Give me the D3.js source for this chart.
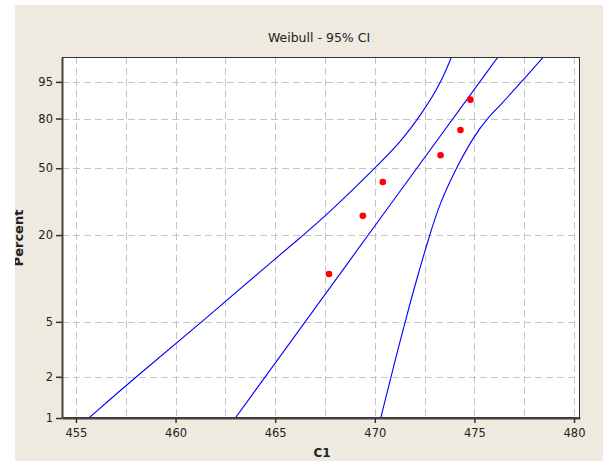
<!DOCTYPE html>
<html><head><meta charset="utf-8">
<script src="https://cdn.jsdelivr.net/npm/d3@7"></script>
<style>body{margin:0;background:#fff}svg{display:block}</style>
</head><body><svg id="c" width="603" height="461"></svg>
<script>
// ---- data ----
const title = "Weibull - 95% CI";
const xLabel = "C1";
const yLabel = "Percent";
const xTicks = [455, 460, 465, 470, 475, 480];
const xGrid = [455, 457.5, 460, 462.5, 465, 467.5, 470, 472.5, 475, 477.5, 480];
const yTicks = [1, 2, 5, 20, 50, 80, 95];
const yGrid = [2, 5, 20, 50, 80, 95];
const obsX = [467.7, 469.4, 470.4, 473.3, 474.3, 474.8];
const obsP = [10.9, 26.6, 42.2, 57.8, 73.4, 89.1];
const fitX = [463.0, 472.1, 476.2];
const fitP = [1, 50, 99];
const loX = [455.65, 458.01, 461.33, 465.04, 466.24, 467.75, 470.06, 471.30, 472.38, 473.27, 473.86];
const loP = [1, 2, 5, 14.05, 19.1, 28.1, 50.7, 66.1, 82.9, 94.2, 99];
const hiX = [470.30, 470.81, 471.52, 472.09, 472.75, 473.27, 474.03, 474.98, 475.66, 476.32, 477.36, 478.49];
const hiP = [1, 2, 5, 9.9, 20, 31.9, 48.9, 69.8, 80.3, 86.8, 95, 99];
const xDomain = [454.3, 480.3];
const pDomain = [1, 98.96];

// ---- layout ----
const L = 62, R = 580, T = 57, B = 418;
const svg = d3.select("#c");
const font = "'DejaVu Sans', Verdana, sans-serif";
const weib = p => Math.log(-Math.log(1 - p / 100));

svg.append("rect").attr("x", 0).attr("y", 0).attr("width", 603).attr("height", 461).attr("fill", "#fff");
svg.append("rect").attr("x", 15).attr("y", 5).attr("width", 588).attr("height", 456).attr("fill", "#EEEAE0");

const x = d3.scaleLinear().domain(xDomain).range([L, R]);
const y = d3.scaleLinear().domain(pDomain.map(weib)).range([B, T]);

svg.append("rect").attr("x", L).attr("y", T).attr("width", R - L).attr("height", B - T).attr("fill", "#fff");

// grid
const g = svg.append("g").attr("stroke", "#c4c4c4").attr("stroke-width", 1).attr("stroke-dasharray", "7,4");
g.selectAll("line.v").data(xGrid).join("line").attr("class", "v")
  .attr("x1", d => Math.round(x(d)) + 0.5).attr("x2", d => Math.round(x(d)) + 0.5)
  .attr("y1", T).attr("y2", B);
g.selectAll("line.h").data(yGrid).join("line").attr("class", "h")
  .attr("y1", d => Math.round(y(weib(d))) + 0.5).attr("y2", d => Math.round(y(weib(d))) + 0.5)
  .attr("x1", L).attr("x2", R);

// curves
svg.append("clipPath").attr("id", "pc").append("rect")
  .attr("x", L).attr("y", T).attr("width", R - L).attr("height", B - T);
const line = d3.line().x(d => x(d[0])).y(d => y(weib(d[1]))).curve(d3.curveBasis);
const cg = svg.append("g").attr("clip-path", "url(#pc)");
[[loX, loP], [fitX, fitP], [hiX, hiP]].forEach(([xs, ps]) => {
  cg.append("path").datum(xs.map((v, i) => [v, ps[i]]))
    .attr("d", line).attr("fill", "none").attr("stroke", "#0000ff").attr("stroke-width", 1.1);
});

// points
cg.selectAll("circle").data(obsX.map((v, i) => [v, obsP[i]])).join("circle")
  .attr("cx", d => x(d[0])).attr("cy", d => y(weib(d[1]))).attr("r", 3.3).attr("fill", "#ff0000");

// frame
svg.append("rect").attr("x", L + 0.5).attr("y", T + 0.5).attr("width", R - L - 1).attr("height", B - T - 1)
  .attr("fill", "none").attr("stroke", "#333").attr("stroke-width", 1);

// axes
const xAxis = d3.axisBottom(x).tickValues(xTicks).tickSize(5).tickSizeOuter(0).tickPadding(6).tickFormat(d3.format("d"));
const ax = svg.append("g").attr("transform", `translate(0,${B})`).call(xAxis);
const yAxis = d3.axisLeft(y).tickValues(yTicks.map(weib)).tickSize(6).tickSizeOuter(0).tickPadding(3)
  .tickFormat((d, i) => yTicks[i]);
const ay = svg.append("g").attr("transform", `translate(${L},0)`).call(yAxis);
[ax, ay].forEach(a => {
  a.select(".domain").attr("stroke", "#444").attr("stroke-width", 2);
  a.selectAll(".tick line").attr("stroke", "#333").attr("stroke-width", 1.5);
  a.selectAll("text").attr("fill", "#222").style("font-family", font).style("font-size", "11.5px");
});

// titles
svg.append("text").attr("x", (L + R) / 2 - 2).attr("y", 42).attr("text-anchor", "middle")
  .style("font-family", font).style("font-size", "12.5px").attr("fill", "#222").text(title);
svg.append("text").attr("x", (L + R) / 2 + 1).attr("y", 457).attr("text-anchor", "middle")
  .style("font-family", font).style("font-size", "12px").style("font-weight", "bold").attr("fill", "#222").text(xLabel);
svg.append("text").attr("transform", "translate(23,238) rotate(-90)").attr("text-anchor", "middle")
  .style("font-family", font).style("font-size", "13px").style("font-weight", "bold").attr("fill", "#222").text(yLabel);
// white strips on top-left cropping the label
svg.append("rect").attr("x", 0).attr("y", 0).attr("width", 15).attr("height", 461).attr("fill", "#fff");
svg.append("rect").attr("x", 0).attr("y", 0).attr("width", 603).attr("height", 5).attr("fill", "#fff");
</script></body></html>
